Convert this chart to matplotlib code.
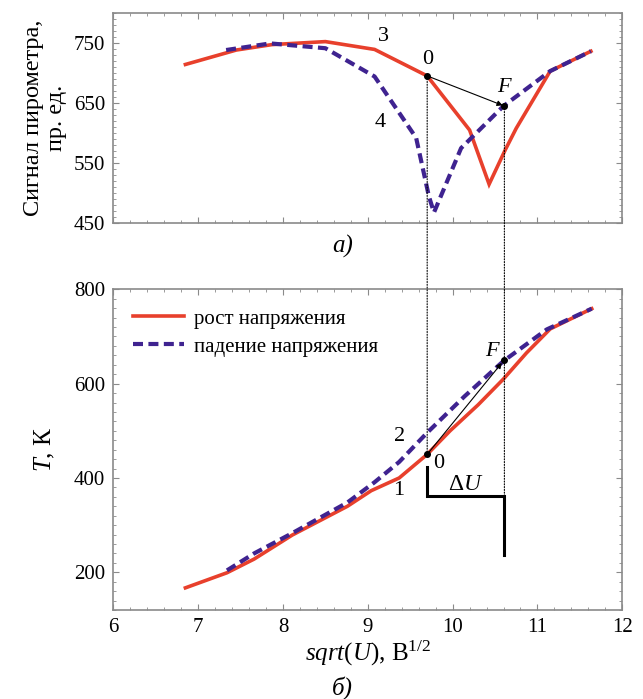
import numpy as np
import matplotlib
matplotlib.use('Agg')
import matplotlib.pyplot as plt
from matplotlib.patches import ConnectionPatch
from matplotlib.ticker import MultipleLocator, FixedLocator, NullFormatter

plt.rcParams['font.family'] = ['Liberation Serif', 'DejaVu Serif']
plt.rcParams['mathtext.fontset'] = 'custom'
plt.rcParams['mathtext.rm'] = 'Liberation Serif'
plt.rcParams['mathtext.it'] = 'Liberation Serif:italic'

# --- data ---
# a) pyrometer signal
u_sig_up = [6.85, 7.45, 7.87, 8.50, 9.08, 9.70, 10.20, 10.43, 10.62, 10.75, 11.15, 11.63]
sig_up = [714, 738, 747, 752, 739, 695, 605, 515, 572, 608, 703, 736]
u_sig_down = [7.33, 7.85, 8.50, 9.08, 9.57, 9.72, 9.78, 10.10, 10.60, 11.15, 11.63]
sig_down = [738, 749, 741, 694, 592, 495, 468, 575, 645, 703, 736]

# b) temperature
u_T_up = [6.85, 7.34, 7.66, 8.11, 8.76, 9.04, 9.37, 9.70, 9.97, 10.30, 10.60, 10.87, 11.15, 11.64]
T_up = [167, 199, 228, 279, 340, 373, 400, 450, 500, 555, 610, 665, 716, 759]
u_T_down = [7.34, 7.66, 8.11, 8.76, 9.08, 9.37, 9.70, 10.14, 10.60, 11.11, 11.64]
T_down = [204, 240, 283, 348, 391, 434, 496, 573, 648, 715, 759]

# marked points 0 and F
u0, uF = 9.70, 10.61
sig0, sigF = 695, 645
T0, TF = 450, 650
bracket_T = [423, 362, 362, 236]

red = '#e8402c'
blue = '#3f2390'
frame = '#8a8a8a'

fig = plt.figure(figsize=(6.43, 6.99), dpi=100)
ax1 = fig.add_axes([0.1762, 0.6805, 0.7916, 0.3013])
ax2 = fig.add_axes([0.1762, 0.1273, 0.7916, 0.4588])

for ax in (ax1, ax2):
    ax.set_xlim(6, 12)
    ax.xaxis.set_major_locator(MultipleLocator(1))
    ax.xaxis.set_minor_locator(MultipleLocator(0.2))
    ax.tick_params(which='both', direction='in', top=True, right=True,
                   color=frame, labelsize=15, pad=6)
    ax.tick_params(which='major', length=4, width=0.8)
    ax.tick_params(which='minor', length=2, width=0.6)
    for s in ax.spines.values():
        s.set_color(frame)
        s.set_linewidth(1.2)

# top panel
ax1.plot(u_sig_up, sig_up, color=red, lw=2.6, solid_joinstyle='miter')
ax1.plot(u_sig_down, sig_down, color=blue, lw=3, dashes=(2.4, 1.3))
ax1.set_ylim(450, 800)
ax1.yaxis.set_major_locator(FixedLocator([450, 550, 650, 750]))
ax1.yaxis.set_minor_locator(MultipleLocator(10))
ax1.xaxis.set_major_formatter(NullFormatter())
ax1.set_ylabel('Сигнал пирометра,\nпр. ед.', fontsize=17.5, labelpad=5, linespacing=1.1)
ax1.plot([u0, uF], [sig0, sigF], 'o', color='black', ms=4)
ax1.annotate('', xy=(uF - 0.02, sigF + 1), xytext=(u0, sig0),
             arrowprops=dict(arrowstyle='-|>', color='black', lw=0.8,
                             mutation_scale=8, shrinkA=0, shrinkB=0))
ax1.text(9.18, 761, '3', fontsize=16, ha='center', va='center')
ax1.text(9.71, 723, '0', fontsize=16, ha='center', va='center')
ax1.text(9.15, 617, '4', fontsize=16, ha='center', va='center')
ax1.text(10.60, 675, 'F', fontsize=16, style='italic', ha='center', va='center')

# bottom panel
ax2.plot(u_T_up, T_up, color=red, lw=2.6, label='рост напряжения')
ax2.plot(u_T_down, T_down, color=blue, lw=3, dashes=(2.4, 1.3),
         label='падение напряжения')
ax2.set_ylim(120, 800)
ax2.yaxis.set_major_locator(FixedLocator([200, 400, 600, 800]))
ax2.yaxis.set_minor_locator(MultipleLocator(20))
ax2.set_ylabel('$T$, К', fontsize=18, labelpad=12)
ax2.set_xlabel('$sqrt$($U$), В$^{1/2}$', fontsize=18, labelpad=1)
ax2.plot([u0, uF], [T0, TF], 'o', color='black', ms=4)
ax2.annotate('', xy=(uF - 0.03, TF - 6), xytext=(u0, T0),
             arrowprops=dict(arrowstyle='-|>', color='black', lw=0.8,
                             mutation_scale=8, shrinkA=0, shrinkB=0))
ax2.plot([u0, u0, uF, uF], bracket_T, color='black', lw=2.2, solid_joinstyle='miter')
ax2.text(9.38, 488, '2', fontsize=16, ha='center', va='center')
ax2.text(9.84, 431, '0', fontsize=16, ha='center', va='center')
ax2.text(9.36, 373, '1', fontsize=16, ha='center', va='center')
ax2.text(10.46, 668, 'F', fontsize=16, style='italic', ha='center', va='center')
ax2.text(10.16, 387, r'$\Delta U$', fontsize=17, ha='center', va='center')
ax2.legend(loc='upper left', frameon=False, fontsize=15, handlelength=2.45,
           handletextpad=0.45, borderaxespad=0.55, labelspacing=0.4)

# dotted connectors between panels
for u, y_top, y_bot in [(u0, sig0, T0), (uF, sigF, bracket_T[2])]:
    con = ConnectionPatch(xyA=(u, y_top), coordsA=ax1.transData,
                          xyB=(u, y_bot), coordsB=ax2.transData,
                          color='black', lw=0.8, linestyle=(0, (1, 1.5)))
    fig.add_artist(con)

fig.text(0.533, 0.647, 'а)', fontsize=18, style='italic', ha='center', va='center')
fig.text(0.533, 0.016, 'б)', fontsize=18, style='italic', ha='center', va='center')

fig.savefig('out.png', dpi=100)
